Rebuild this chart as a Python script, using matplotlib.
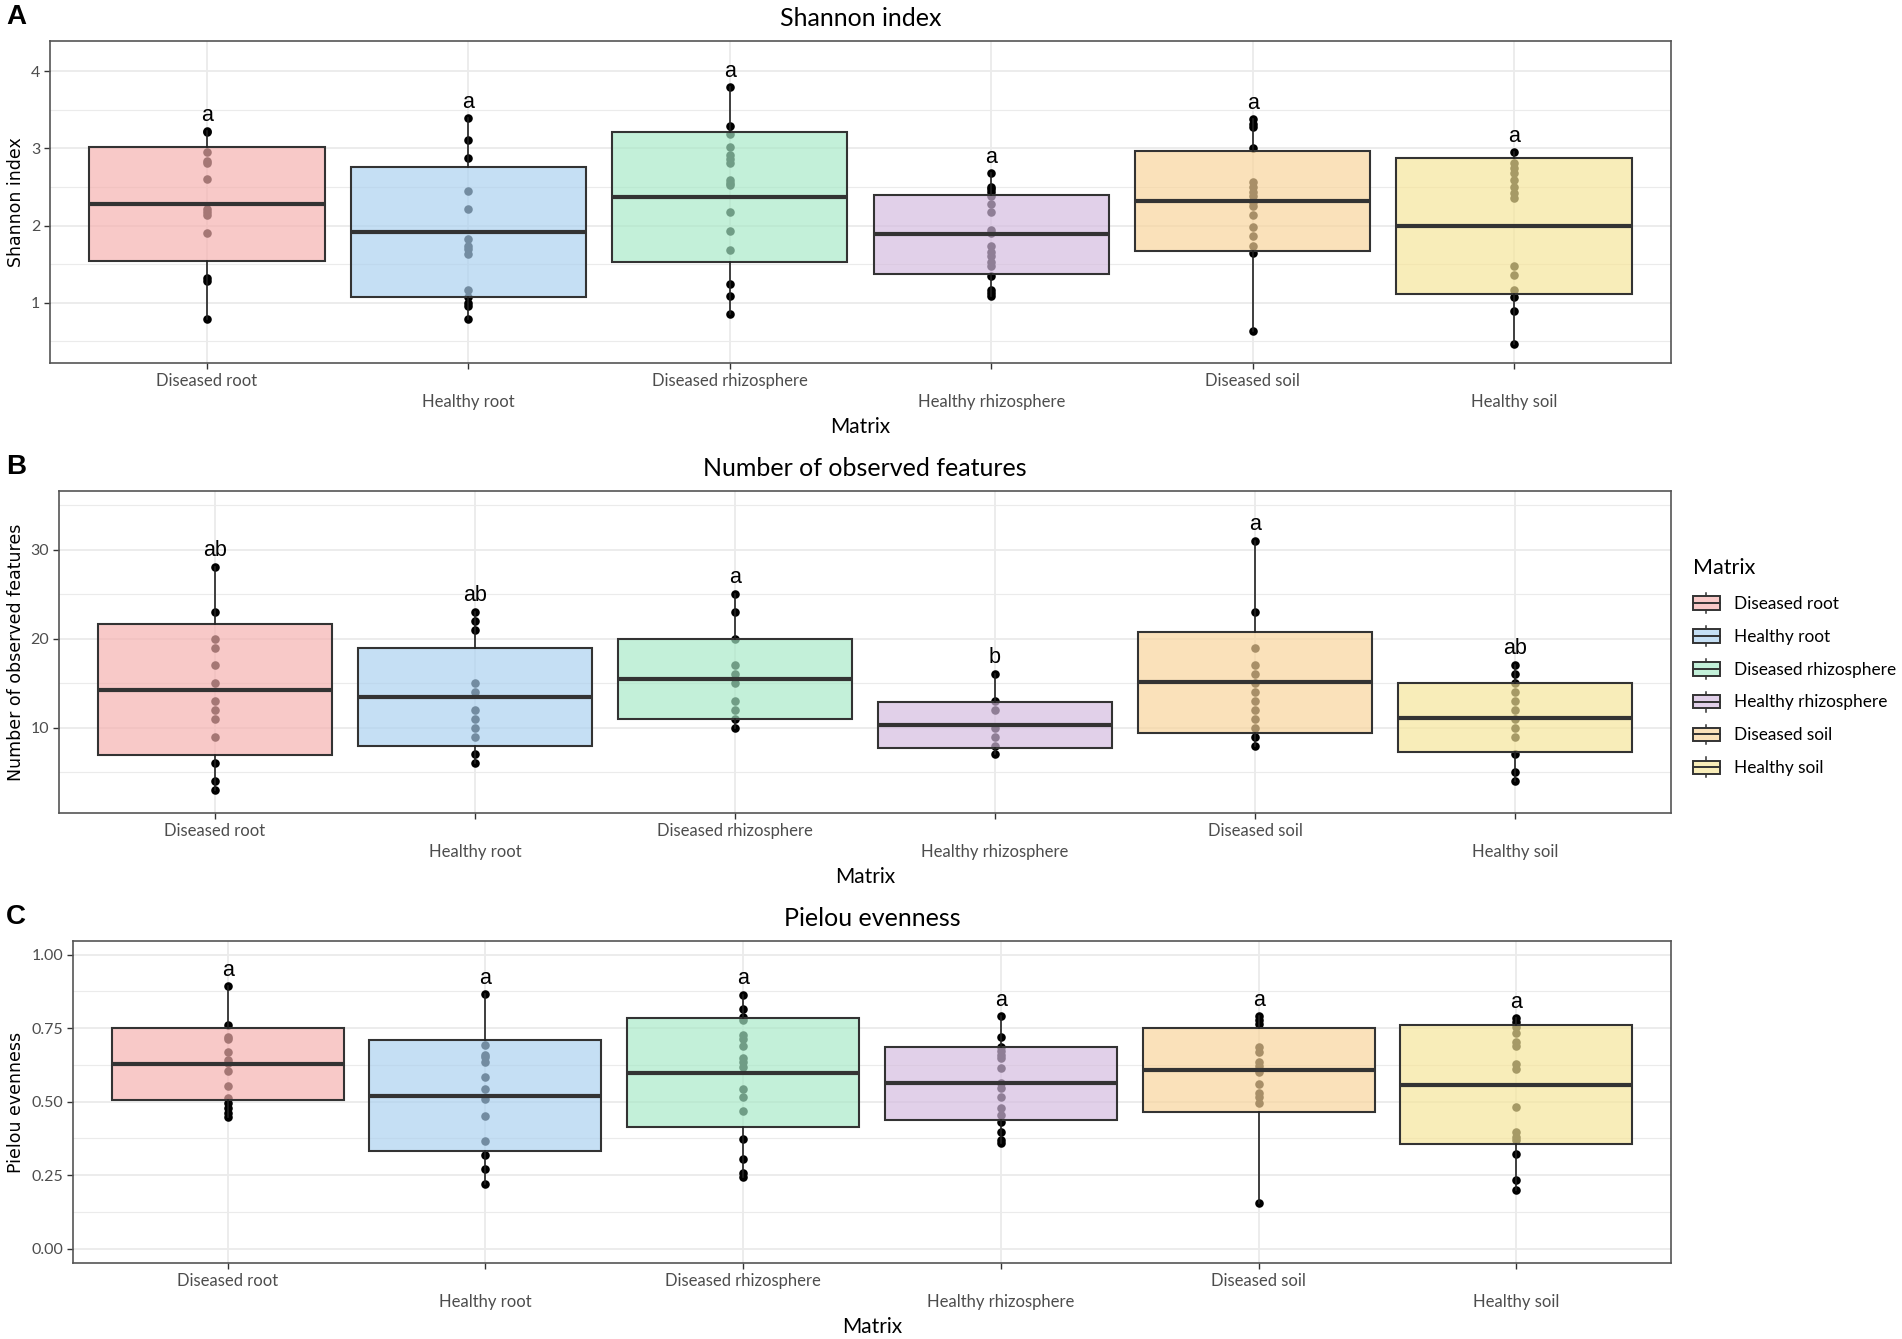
import numpy as np
import matplotlib
matplotlib.use("Agg")
import matplotlib.pyplot as plt
from matplotlib.patches import Patch, Rectangle
from matplotlib.lines import Line2D
from matplotlib.legend_handler import HandlerBase
from matplotlib.colors import to_rgba

# figure size in pixels
W = 1902
H = 1339

groups = ["Diseased root", "Healthy root", "Diseased rhizosphere",
          "Healthy rhizosphere", "Diseased soil", "Healthy soil"]
group_colors = ["#F5B0AE", "#AAD0EF", "#A7E9C7", "#D4BBDF", "#F9D49A", "#F6E598"]

# Shannon index
shannon_pts = [
    [3.23, 3.21, 2.95, 2.84, 2.81, 2.60, 2.22, 2.18, 2.14, 1.91, 1.32, 1.28, 0.79],
    [3.39, 3.11, 2.88, 2.45, 2.21, 1.83, 1.73, 1.69, 1.63, 1.17, 1.07, 1.00, 0.96, 0.79],
    [3.80, 3.29, 3.18, 3.02, 2.91, 2.86, 2.81, 2.59, 2.55, 2.52, 2.17, 1.93, 1.68, 1.24, 1.09, 0.85],
    [2.68, 2.50, 2.47, 2.44, 2.38, 2.28, 2.17, 1.94, 1.90, 1.73, 1.66, 1.60, 1.53, 1.47, 1.35, 1.17, 1.13, 1.09],
    [3.38, 3.31, 3.27, 3.00, 2.56, 2.50, 2.44, 2.38, 2.31, 2.25, 2.14, 1.98, 1.86, 1.74, 1.64, 0.63],
    [2.95, 2.81, 2.74, 2.68, 2.59, 2.50, 2.42, 2.36, 1.47, 1.36, 1.17, 1.07, 0.89, 0.47],
]
shannon_q1 = [1.54, 1.07, 1.53, 1.37, 1.67, 1.11]
shannon_med = [2.28, 1.92, 2.37, 1.89, 2.32, 2.00]
shannon_q3 = [3.02, 2.76, 3.21, 2.40, 2.96, 2.88]
shannon_sig = ["a", "a", "a", "a", "a", "a"]

# observed features
features_pts = [
    [28, 23, 20, 19, 17, 15, 13, 12, 11, 9, 6, 4, 3],
    [23, 22, 21, 15, 14, 12, 11, 10, 9, 7, 6],
    [25, 23, 20, 17, 16, 15, 13, 12, 11, 10],
    [16, 13, 12, 10, 9, 8, 7],
    [31, 23, 19, 17, 16, 15, 14, 13, 12, 11, 10, 9, 8],
    [17, 16, 15, 14, 13, 12, 11, 10, 9, 7, 5, 4],
]
features_q1 = [6.9, 7.9, 10.95, 7.7, 9.4, 7.25]
features_med = [14.25, 13.4, 15.45, 10.3, 15.1, 11.15]
features_q3 = [21.6, 18.9, 19.95, 12.9, 20.7, 15.0]
features_sig = ["ab", "ab", "a", "b", "a", "ab"]

# Pielou evenness
pielou_pts = [
    [0.893, 0.760, 0.718, 0.712, 0.667, 0.641, 0.630, 0.603, 0.552, 0.511, 0.494, 0.477, 0.460, 0.447],
    [0.866, 0.693, 0.660, 0.653, 0.636, 0.584, 0.542, 0.508, 0.452, 0.367, 0.317, 0.272, 0.219],
    [0.864, 0.816, 0.788, 0.777, 0.727, 0.714, 0.690, 0.648, 0.633, 0.618, 0.544, 0.517, 0.467,
     0.372, 0.303, 0.257, 0.245],
    [0.790, 0.720, 0.687, 0.673, 0.660, 0.647, 0.613, 0.562, 0.545, 0.517, 0.477, 0.455, 0.432,
     0.398, 0.370, 0.359],
    [0.790, 0.777, 0.764, 0.687, 0.670, 0.636, 0.622, 0.602, 0.560, 0.530, 0.515, 0.494, 0.155],
    [0.783, 0.771, 0.754, 0.732, 0.704, 0.690, 0.628, 0.611, 0.483, 0.398, 0.381, 0.370, 0.322,
     0.232, 0.198],
]
pielou_q1 = [0.507, 0.331, 0.412, 0.438, 0.465, 0.355]
pielou_med = [0.629, 0.520, 0.598, 0.562, 0.607, 0.558]
pielou_q3 = [0.751, 0.709, 0.783, 0.687, 0.750, 0.759]
pielou_sig = ["a", "a", "a", "a", "a", "a"]

shannon_ticks = [1, 2, 3, 4]
shannon_ticklabels = ["1", "2", "3", "4"]
features_ticks = [10, 20, 30]
features_ticklabels = ["10", "20", "30"]
pielou_ticks = [0.0, 0.25, 0.5, 0.75, 1.0]
pielou_ticklabels = ["0.00", "0.25", "0.50", "0.75", "1.00"]

ALPHA = 0.68
TXT = "Lato"


class BoxKey(HandlerBase):
    """
    Legend key that looks like a small boxplot
    """

    def create_artists(self, legend, orig_handle, xdescent, ydescent,
                       width, height, fontsize, trans):
        x0 = -xdescent
        y0 = -ydescent
        cx = x0 + width / 2
        b0 = y0 + height * 0.16
        b1 = y0 + height * 0.84
        lo = Line2D([cx, cx], [y0, b0], color="#333333", lw=1.1, transform=trans)
        hi = Line2D([cx, cx], [b1, y0 + height], color="#333333", lw=1.1, transform=trans)
        rect = Rectangle((x0, b0), width, b1 - b0, facecolor=orig_handle.get_facecolor(),
                         edgecolor="#333333", lw=1.4, transform=trans)
        med = Line2D([x0, x0 + width], [y0 + height / 2] * 2, color="#333333", lw=1.4,
                     transform=trans)
        return [lo, hi, rect, med]


def px_rect(l, t, r, b):
    return [l / W, 1 - b / H, (r - l) / W, (b - t) / H]


def draw_panel(rect, pts, q1, med, q3, sig, sig_off, ylim, ticks, ticklabels,
               minor, title, ylabel, letter):
    ax = fig.add_axes(px_rect(*rect))
    x = np.arange(1, len(groups) + 1)

    # points first, the boxes are half see-through on top of them
    for i, p in enumerate(pts):
        ax.scatter(np.full(len(p), x[i]), p, s=38, color="black", linewidths=0, zorder=2)

    stats = []
    for i, p in enumerate(pts):
        stats.append({"med": med[i], "q1": q1[i], "q3": q3[i],
                      "whislo": min(p), "whishi": max(p), "fliers": []})
    bp = ax.bxp(stats, positions=x, widths=0.9, patch_artist=True, showcaps=False,
                showfliers=False, zorder=3,
                boxprops={"edgecolor": "#333333", "linewidth": 1.5},
                medianprops={"color": "#333333", "linewidth": 3.0},
                whiskerprops={"color": "#222222", "linewidth": 1.2})
    for patch, c in zip(bp["boxes"], group_colors):
        patch.set_facecolor(to_rgba(c, ALPHA))

    for i, p in enumerate(pts):
        ax.text(x[i], max(p) + sig_off, sig[i], ha="center", va="center",
                fontsize=15.5, family="Liberation Sans", zorder=4)

    ax.set_xlim(0.4, 6.6)
    ax.set_ylim(*ylim)
    ax.set_xticks(x)
    labs = [g if i % 2 == 0 else "\n" + g for i, g in enumerate(groups)]
    ax.set_xticklabels(labs, fontsize=12, family=TXT, color="#4D4D4D", linespacing=1.4)
    ax.set_yticks(ticks)
    ax.set_yticklabels(ticklabels, fontsize=11.5, family=TXT, color="#4D4D4D")
    ax.set_yticks(minor, minor=True)
    ax.tick_params(which="major", length=4, width=1, color="#333333", pad=3)
    ax.tick_params(which="minor", length=0)
    ax.grid(which="major", color="#EBEBEB", lw=1.3)
    ax.grid(which="minor", axis="y", color="#EBEBEB", lw=0.8)
    ax.set_axisbelow(True)
    for s in ax.spines.values():
        s.set_color("#555555")
        s.set_linewidth(1.2)

    ax.set_title(title, fontsize=18, family=TXT, pad=11)
    ax.set_xlabel("Matrix", fontsize=15, family=TXT, labelpad=5)

    l, t, r, b = rect
    fig.text(16 / W, 1 - (t + b) / 2 / H, ylabel, rotation=90, ha="center", va="center",
             fontsize=12.5, family="DejaVu Sans")
    fig.text(6 / W, 1 - (t - 24) / H, letter, ha="left", va="center", fontsize=20,
             fontweight="bold", family="Liberation Sans")
    return ax


fig = plt.figure(figsize=(W / 100, H / 100), dpi=100)

draw_panel((50, 41, 1671, 363), shannon_pts, shannon_q1, shannon_med, shannon_q3,
           shannon_sig, 0.2, (0.22, 4.39), shannon_ticks, shannon_ticklabels,
           [0.5, 1.5, 2.5, 3.5], "Shannon index", "Shannon index", "A")

draw_panel((59, 491, 1671, 813), features_pts, features_q1, features_med, features_q3,
           features_sig, 1.85, (0.43, 36.58), features_ticks, features_ticklabels,
           [5, 15, 25, 35], "Number of observed features", "Number of observed features", "B")

draw_panel((73, 941, 1671, 1263), pielou_pts, pielou_q1, pielou_med, pielou_q3,
           pielou_sig, 0.054, (-0.049, 1.046), pielou_ticks, pielou_ticklabels,
           [0.125, 0.375, 0.625, 0.875], "Pielou evenness", "Pielou evenness", "C")

handles = [Patch(facecolor=to_rgba(c, ALPHA), edgecolor="#333333", label=g)
           for g, c in zip(groups, group_colors)]
fig.legend(handles=handles, title="Matrix", loc="upper left",
           bbox_to_anchor=(1693 / W, 1 - 558 / H), frameon=False,
           prop={"family": TXT, "size": 12.4},
           title_fontproperties={"family": TXT, "size": 15.5},
           alignment="left", handlelength=1.55, handleheight=1.4,
           labelspacing=0.75, handletextpad=0.85, borderpad=0, borderaxespad=0,
           handler_map={Patch: BoxKey()})
# a bit more room between the legend title and the first key (points)
fig.legends[0]._legend_box.sep = 11

plt.savefig("out.png", dpi=100)
